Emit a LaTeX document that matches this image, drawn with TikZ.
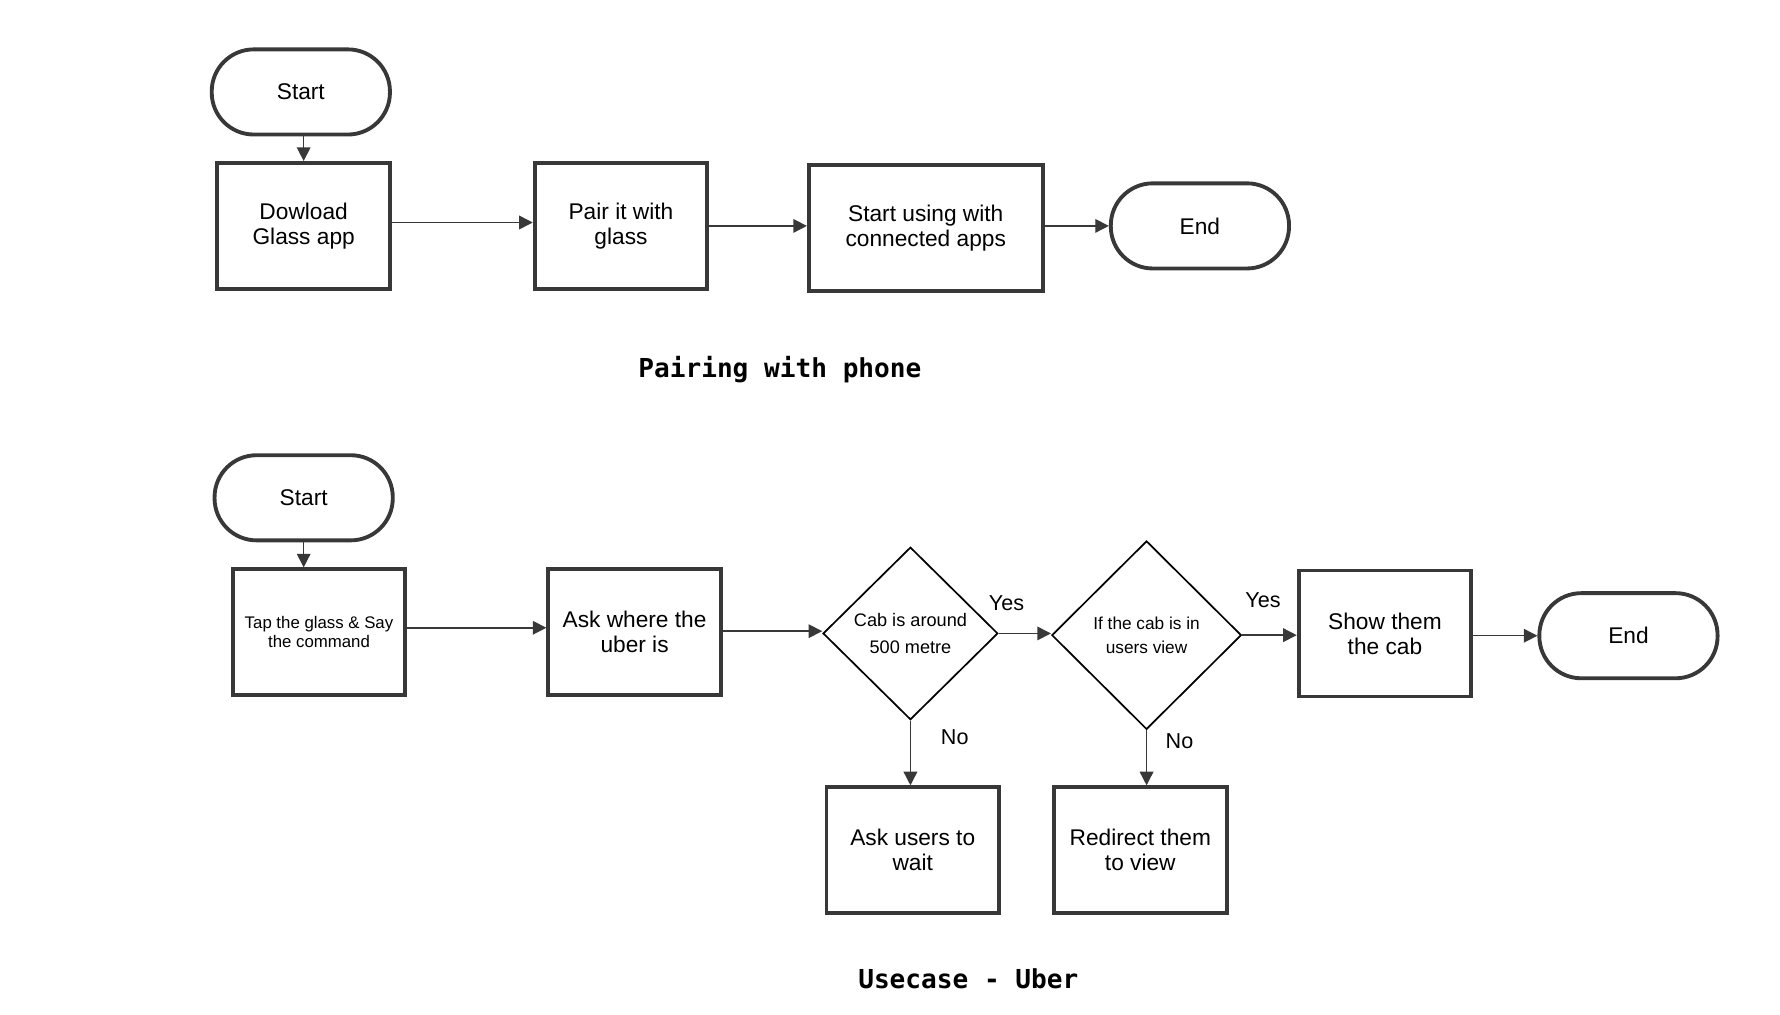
\documentclass[tikz,border=0pt]{standalone}
\usepackage{fontspec}
\setmainfont{Liberation Sans}
\setmonofont{DejaVu Sans Mono}
\usetikzlibrary{shapes.geometric,arrows.meta}
\definecolor{ink}{HTML}{383838}

\begin{document}
\begin{tikzpicture}[x=0.5pt,y=0.5pt]
    \tikzstyle{every node}+=[inner sep=0pt, text=black]
    \tikzstyle{term}=[draw=ink, line width=1.7pt, rectangle, rounded corners=18.5pt, minimum width=78.5pt, minimum height=37.5pt, font=\fontsize{10}{11}\selectfont]
    \tikzstyle{box}=[draw=ink, line width=1.7pt, rectangle, minimum width=76pt, minimum height=55.5pt, align=center, font=\fontsize{10}{11}\selectfont]
    \tikzstyle{choice}=[draw=black, line width=0.75pt, diamond, align=center]
    \tikzstyle{flow}=[draw=ink, line width=0.65pt, -{Triangle[length=6pt,width=6pt]}]
    \tikzstyle{lbl}=[font=\fontsize{9.5}{11}\selectfont]
    \tikzstyle{heading}=[font=\ttfamily\bfseries\fontsize{11.5}{13}\selectfont]
    \useasboundingbox (0,0) rectangle (1568,-894);
    % pairing with phone
    \node [term] (s1) at (265,-81) {Start};
    \node [box] (dl) at (267.5,-199) {Dowload\\Glass app};
    \node [box] (pair) at (547,-199) {Pair it with\\glass};
    \node [box, minimum width=103pt] (use) at (815.5,-201) {Start using with\\connected apps};
    \node [term] (e1) at (1057,-199) {End};
    \node [heading] (t1) at (687,-326) {Pairing with phone};
    \draw [flow] (s1.south -| dl.north) -- (dl.north);
    \draw [flow] ([yshift=1.5pt]dl.east) -- ([yshift=1.5pt]pair.west);
    \draw [flow] (pair.east) -- (pair.east -| use.west);
    \draw [flow] (e1.west -| use.east) -- (e1.west);
    % usecase uber
    \node [term] (s2) at (267.5,-438.5) {Start};
    \node [box, font=\fontsize{7.4}{8.5}\selectfont] (tap) at (281,-557) {Tap the glass \& Say\\the command};
    \node [box] (ask) at (559,-557) {Ask where the\\uber is};
    \node [choice, minimum width=77pt, minimum height=76pt, font=\fontsize{8}{12}\selectfont] (d1) at (802,-558) {Cab is around\\500 metre};
    \node [choice, minimum width=83.5pt, minimum height=83pt, font=\fontsize{7.6}{10.5}\selectfont] (d2) at (1010,-559.5) {If the cab is in\\users view};
    \node [box] (show) at (1220,-558) {Show them\\the cab};
    \node [term] (e2) at (1434.5,-560) {End};
    \node [box] (wait) at (804,-749) {Ask users to\\wait};
    \node [box] (redir) at (1004.5,-749) {Redirect them\\to view};
    \node [heading] (t2) at (853,-862) {Usecase - Uber};
    \draw [flow] (s2.south) -- (s2.south |- tap.north);
    \draw [flow] ([yshift=2pt]tap.east) -- ([yshift=2pt]ask.west);
    \draw [flow] ([yshift=0.5pt]ask.east) -- ([yshift=0.5pt]ask.east -| d1.west);
    \draw [flow] (d1.east) -- node [lbl, pos=0.15, yshift=13.5pt] {Yes} (d1.east -| d2.west);
    \draw [flow] (d2.east) -- node [lbl, pos=0.38, yshift=15.5pt] {Yes} (d2.east -| show.west);
    \draw [flow] (e2.west -| show.east) -- (e2.west);
    \draw [flow] (d1.south) -- node [lbl, pos=0.25, xshift=19.5pt] {No} (d1.south |- wait.north);
    \draw [flow] (d2.south) -- node [lbl, pos=0.2, xshift=14.5pt] {No} (d2.south |- redir.north);
\end{tikzpicture}
\end{document}
